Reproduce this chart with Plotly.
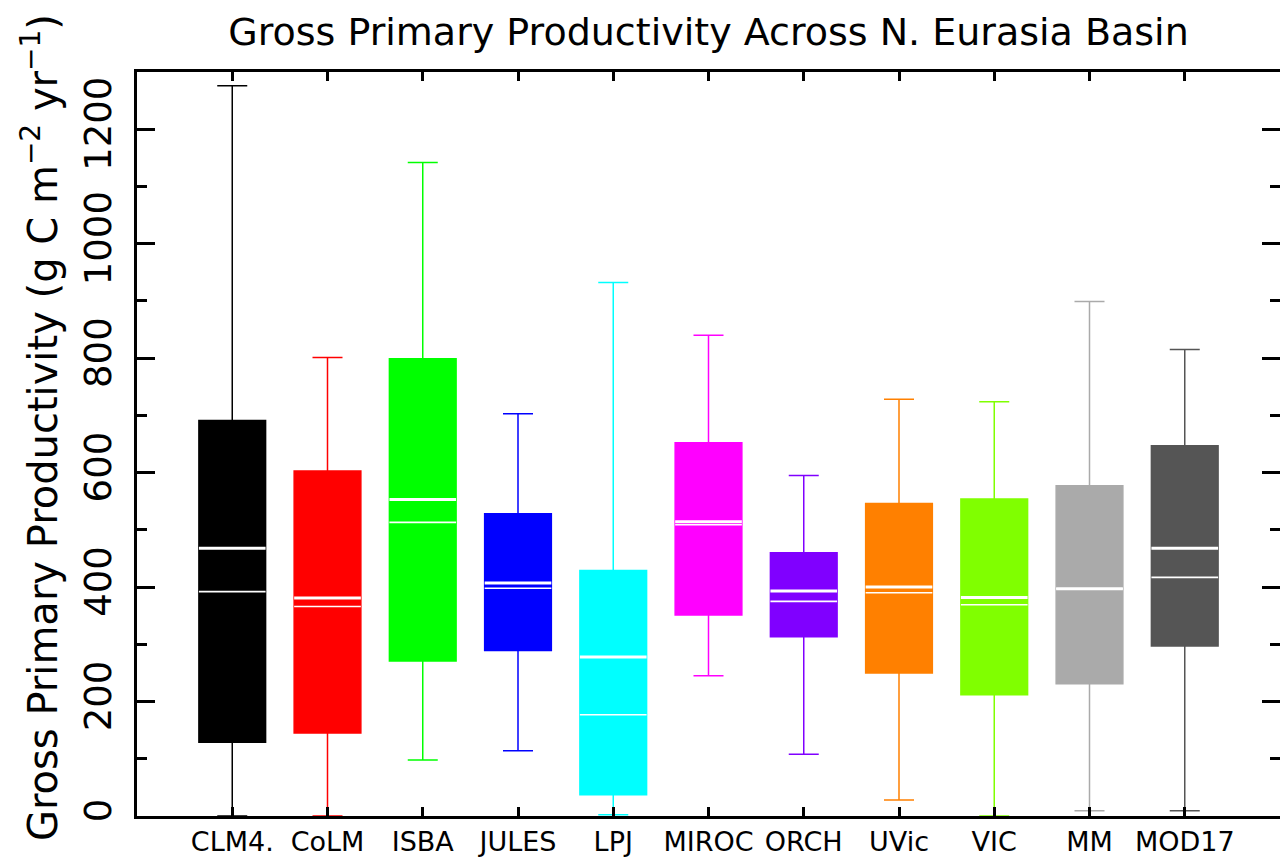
import plotly.graph_objects as go

models = ["CLM4.", "CoLM", "ISBA", "JULES", "LPJ", "MIROC", "ORCH", "UVic", "VIC", "MM", "MOD17"]
colors = ["#000000", "#FF0000", "#00FF00", "#0000FF", "#00FFFF", "#FF00FF",
          "#8000FF", "#FF8000", "#80FF00", "#AAAAAA", "#555555"]

whisker_low = [0, 0, 98, 114, 2, 245, 108, 28, 0, 9, 9]
q1_vals = [129, 145, 271, 289, 37, 351, 313, 250, 212, 231, 297]
median_vals = [392, 366, 513, 398, 177, 509, 375, 390, 369, 397, 417]
mean_vals = [468, 381, 553, 407, 278, 514, 393, 400, 382, 397, 468]
q3_vals = [691, 603, 799, 528, 429, 652, 460, 546, 554, 577, 647]
whisker_high = [1276, 801, 1142, 703, 932, 840, 595, 728, 724, 899, 815]

positions = list(range(1, len(models) + 1))
box_width = 0.70

fig = go.Figure()

for i, m in enumerate(models):
    fig.add_trace(go.Box(
        x=[positions[i]],
        q1=[q1_vals[i]], median=[median_vals[i]], q3=[q3_vals[i]],
        lowerfence=[whisker_low[i]], upperfence=[whisker_high[i]],
        width=box_width, whiskerwidth=0.45,
        fillcolor=colors[i], line=dict(color=colors[i], width=1.5),
        boxpoints=False, name=m, showlegend=False, hoverinfo="skip",
    ))

def segs(vals):
    xs, ys = [], []
    for p, v in zip(positions, vals):
        xs += [p - box_width / 2, p + box_width / 2, None]
        ys += [v, v, None]
    return xs, ys

mx, my = segs(mean_vals)
fig.add_trace(go.Scatter(x=mx, y=my, mode="lines", line=dict(color="white", width=3),
                         showlegend=False, hoverinfo="skip"))
dx, dy = segs(median_vals)
fig.add_trace(go.Scatter(x=dx, y=dy, mode="lines", line=dict(color="white", width=1.6),
                         showlegend=False, hoverinfo="skip"))

font_family = "DejaVu Sans"

fig.update_layout(
    width=1280, height=860,
    margin=dict(l=137, r=0, t=72, b=44, autoexpand=False),
    paper_bgcolor="white", plot_bgcolor="white",
    font=dict(family=font_family, color="black"),
    title=dict(text="Gross Primary Productivity Across N. Eurasia Basin",
               x=(137 + 1280) / 2 / 1280, xanchor="center", y=1 - 32 / 860, yanchor="middle",
               font=dict(size=38, family=font_family, color="black")),
    showlegend=False,
)

fig.add_annotation(
    text="Gross Primary Productivity (g C m<sup>−2</sup> yr<sup>−1</sup>)",
    textangle=-90, xref="paper", yref="paper",
    x=(40 - 137) / 1143, y=(816 - 428) / 744, xanchor="center", yanchor="middle",
    showarrow=False, font=dict(size=40, family=font_family, color="black"),
)

fig.update_xaxes(
    range=[0, 12], tickmode="array", tickvals=positions, ticktext=models,
    ticks="inside", ticklen=9, tickwidth=3, tickcolor="black",
    showline=True, linewidth=3, linecolor="black", mirror="ticks",
    showgrid=False, zeroline=False, automargin=False, tickangle=0,
    tickfont=dict(size=27, family=font_family, color="black"),
    ticklabelstandoff=0,
)

fig.update_yaxes(
    range=[0, 1300], tickmode="linear", tick0=0, dtick=200,
    ticks="inside", ticklen=18, tickwidth=3, tickcolor="black",
    minor=dict(dtick=100, ticks="inside", ticklen=10, tickwidth=3, tickcolor="black", showgrid=False),
    showline=True, linewidth=3, linecolor="black", mirror="ticks",
    showgrid=False, zeroline=False, automargin=False,
    tickangle=-90,
    tickfont=dict(size=37, family=font_family, color="black"),
    ticklabelstandoff=8,
)

fig.write_html("out.html")
